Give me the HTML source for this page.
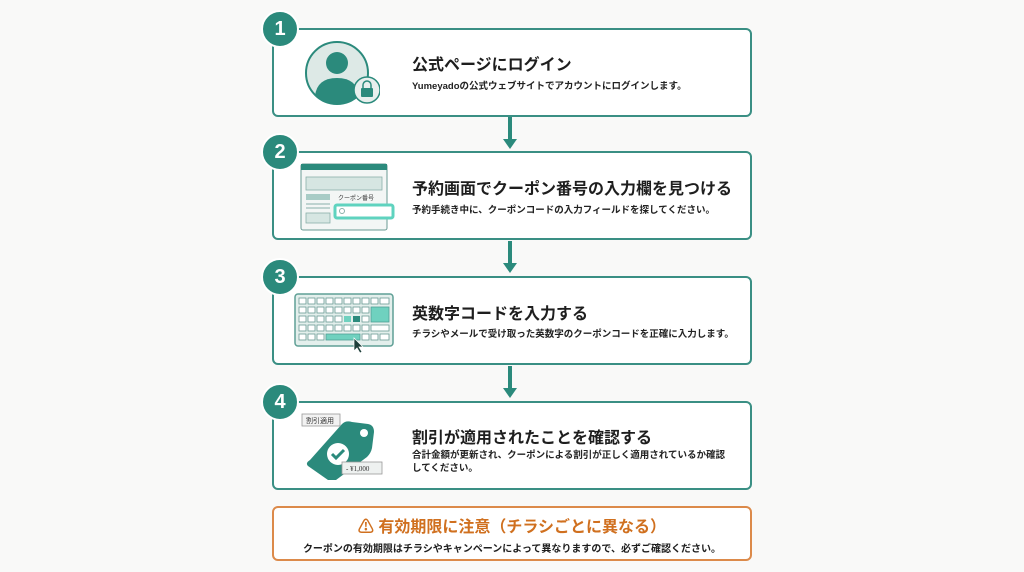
<!DOCTYPE html>
<html><head><meta charset="utf-8"><style>
*{margin:0;padding:0;box-sizing:border-box}
body{width:1024px;height:572px;background:#f9f9f8;position:relative;overflow:hidden;font-family:"Liberation Sans","Noto Sans CJK JP",sans-serif;color:#1e1e1e}
.box{position:absolute;left:272px;width:480px;height:89px;border:2px solid #3a8f84;border-radius:6px;background:#fff}
.badge{position:absolute;width:38px;height:38px;border-radius:50%;background:#2b8a7c;color:#fff;font-weight:bold;font-size:20px;text-align:center;line-height:34px;border:2px solid #fff}
.t{position:absolute;left:412px;font-weight:bold;font-size:16px;white-space:nowrap}
.d{position:absolute;left:412px;font-size:9.5px;font-weight:bold;white-space:nowrap;color:#222}
.arr{position:absolute;left:508px;width:4px;background:#2b8a7c}
.ah{position:absolute;left:503px;width:0;height:0;border-left:7px solid transparent;border-right:7px solid transparent;border-top:10px solid #2b8a7c}
</style></head><body>
<div class="box" style="top:28px"></div>
<div class="box" style="top:151px"></div>
<div class="box" style="top:276px"></div>
<div class="box" style="top:401px"></div>
<div class="arr" style="top:117px;height:24px"></div><div class="ah" style="top:139px"></div>
<div class="arr" style="top:241px;height:24px"></div><div class="ah" style="top:263px"></div>
<div class="arr" style="top:366px;height:24px"></div><div class="ah" style="top:388px"></div>
<div class="badge" style="left:261px;top:10px">1</div>
<div class="badge" style="left:261px;top:133px">2</div>
<div class="badge" style="left:261px;top:258px">3</div>
<div class="badge" style="left:261px;top:383px">4</div>

<!-- icon 1 -->
<svg style="position:absolute;left:300px;top:38px" width="80" height="70">
<circle cx="37" cy="35" r="31" fill="#dde9e6" stroke="#2b8a7c" stroke-width="2"/>
<circle cx="37" cy="25" r="11" fill="#2b8a7c"/>
<path d="M15 58 Q17 40 37 40 Q57 40 59 58 Q48 66 37 66 Q26 66 15 58Z" fill="#2b8a7c"/>
<circle cx="67" cy="52" r="13" fill="#e8efed" stroke="#2b8a7c" stroke-width="1.5"/>
<rect x="61" y="50" width="12" height="9" rx="1" fill="#2b8a7c"/>
<path d="M63 50 v-3 a4 4 0 0 1 8 0 v3" fill="none" stroke="#2b8a7c" stroke-width="1.5"/>
</svg>
<div class="t" style="top:51px">公式ページにログイン</div>
<div class="d" style="top:78px">Yumeyadoの公式ウェブサイトでアカウントにログインします。</div>

<!-- icon 2 -->
<svg style="position:absolute;left:300px;top:163px" width="100" height="70">
<rect x="1" y="1" width="86" height="66" rx="2" fill="#f3f6f5" stroke="#6a9a93"/>
<rect x="1" y="1" width="86" height="6" fill="#2b8a7c"/>
<rect x="6" y="14" width="76" height="13" fill="#d6e6e2" stroke="#8ab0aa" stroke-width=".8"/>
<rect x="6" y="31" width="24" height="6" fill="#a9ccc6"/>
<text x="38" y="37" font-size="6" font-family="Noto Sans CJK JP" fill="#333">クーポン番号</text>
<line x1="6" y1="41" x2="30" y2="41" stroke="#8ab0aa"/><line x1="6" y1="45" x2="30" y2="45" stroke="#8ab0aa"/>
<rect x="6" y="50" width="24" height="10" fill="#d6e6e2" stroke="#8ab0aa" stroke-width=".8"/>
<rect x="35" y="42" width="58" height="13" rx="2" fill="#fff" stroke="#5fd3bf" stroke-width="3"/>
<circle cx="42" cy="48" r="2.5" fill="none" stroke="#8ab0aa"/>
</svg>
<div class="t" style="top:175px">予約画面でクーポン番号の入力欄を見つける</div>
<div class="d" style="top:202px">予約手続き中に、クーポンコードの入力フィールドを探してください。</div>

<!-- icon 3 -->
<svg style="position:absolute;left:294px;top:293px" width="102" height="62">
<rect x="1" y="1" width="98" height="52" rx="3" fill="#e3efec" stroke="#5f9f95" stroke-width="1.5"/>
<g fill="#fff" stroke="#6a9a93" stroke-width=".8">
<rect x="5" y="5" width="7" height="6"/><rect x="14" y="5" width="7" height="6"/><rect x="23" y="5" width="7" height="6"/><rect x="32" y="5" width="7" height="6"/><rect x="41" y="5" width="7" height="6"/><rect x="50" y="5" width="7" height="6"/><rect x="59" y="5" width="7" height="6"/><rect x="68" y="5" width="7" height="6"/><rect x="77" y="5" width="7" height="6"/><rect x="86" y="5" width="9" height="6"/>
<rect x="5" y="14" width="7" height="6"/><rect x="14" y="14" width="7" height="6"/><rect x="23" y="14" width="7" height="6"/><rect x="32" y="14" width="7" height="6"/><rect x="41" y="14" width="7" height="6"/><rect x="50" y="14" width="7" height="6"/><rect x="59" y="14" width="7" height="6"/><rect x="68" y="14" width="7" height="6"/>
<rect x="5" y="23" width="7" height="6"/><rect x="14" y="23" width="7" height="6"/><rect x="23" y="23" width="7" height="6"/><rect x="32" y="23" width="7" height="6"/><rect x="41" y="23" width="7" height="6"/><rect x="68" y="23" width="7" height="6"/>
<rect x="5" y="32" width="7" height="6"/><rect x="14" y="32" width="7" height="6"/><rect x="23" y="32" width="7" height="6"/><rect x="32" y="32" width="7" height="6"/><rect x="41" y="32" width="7" height="6"/><rect x="50" y="32" width="7" height="6"/><rect x="59" y="32" width="7" height="6"/><rect x="68" y="32" width="7" height="6"/><rect x="77" y="32" width="18" height="6"/>
<rect x="5" y="41" width="7" height="6"/><rect x="14" y="41" width="7" height="6"/><rect x="23" y="41" width="7" height="6"/><rect x="77" y="41" width="7" height="6"/><rect x="86" y="41" width="9" height="6"/><rect x="68" y="41" width="7" height="6"/>
</g>
<rect x="77" y="14" width="18" height="15" fill="#6fd1bf" stroke="#4f9f95" stroke-width=".8"/>
<rect x="50" y="23" width="7" height="6" fill="#6fd1bf"/><rect x="59" y="23" width="7" height="6" fill="#2b8a7c"/>
<rect x="32" y="41" width="34" height="6" fill="#6fd1bf" stroke="#4f9f95" stroke-width=".8"/>
<path d="M60 45 l0 13 l3 -3 l3 5 l2 -1 l-3 -5 l4 0z" fill="#1e3f3a" stroke="#fff" stroke-width=".7"/>
</svg>
<div class="t" style="top:300px">英数字コードを入力する</div>
<div class="d" style="top:326px">チラシやメールで受け取った英数字のクーポンコードを正確に入力します。</div>

<!-- icon 4 -->
<svg style="position:absolute;left:300px;top:410px" width="90" height="70">
<path d="M10 50 L42 14 Q46 10 52 12 L68 14 Q74 15 74 22 L72 38 Q71 43 67 47 L36 70 Q32 73 28 70 L8 56 Q5 53 10 50Z" fill="#2b8a7c"/>
<circle cx="64" cy="23" r="4" fill="#fff"/>
<circle cx="38" cy="44" r="11" fill="#fff"/>
<path d="M32 44 l4 4 l8 -8" fill="none" stroke="#2b8a7c" stroke-width="3"/>
<rect x="2" y="4" width="38" height="12" fill="#f2f2f2" stroke="#999" stroke-width=".8"/>
<text x="6" y="13" font-size="7" font-family="Noto Sans CJK JP" fill="#333">割引適用</text>
<rect x="42" y="52" width="40" height="12" fill="#eef1f0" stroke="#999" stroke-width=".8"/>
<text x="46" y="61" font-size="7" font-family="Liberation Serif" fill="#333">- ¥1,000</text>
</svg>
<div class="t" style="top:424px">割引が適用されたことを確認する</div>
<div class="d" style="top:449px;line-height:13px">合計金額が更新され、クーポンによる割引が正しく適用されているか確認<br>してください。</div>

<!-- warning -->
<div style="position:absolute;left:272px;top:506px;width:480px;height:55px;border:2px solid #dc8a4a;border-radius:6px;background:#fff"></div>
<div style="position:absolute;left:272px;width:480px;top:513px;text-align:center;font-weight:bold;font-size:16px;color:#d0701f;white-space:nowrap">⚠ 有効期限に注意（チラシごとに異なる）</div>
<div style="position:absolute;left:272px;width:480px;top:540px;text-align:center;font-weight:bold;font-size:10px;white-space:nowrap">クーポンの有効期限はチラシやキャンペーンによって異なりますので、必ずご確認ください。</div>
</body></html>
